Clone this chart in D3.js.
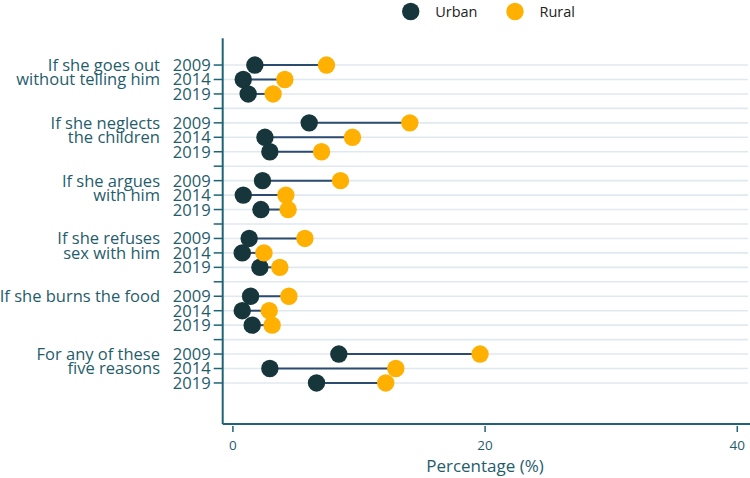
<!DOCTYPE html>
<html><head><meta charset="utf-8">
<script src="https://cdn.jsdelivr.net/npm/d3@7"></script>
<style>body{margin:0;background:#fff}svg{display:block}text{font-family:"Open Sans",sans-serif}</style>
</head><body><svg id="c" width="750" height="478"></svg>
<script>
const groups = [
  ["If she goes out","without telling him"],
  ["If she neglects","the children"],
  ["If she argues","with him"],
  ["If she refuses","sex with him"],
  ["If she burns the food"],
  ["For any of these","five reasons"]
];
const years = ["2009","2014","2019"];
// values per group, per year
const urban = [
  [1.74, 0.82, 1.21],
  [6.05, 2.54, 2.93],
  [2.35, 0.82, 2.22],
  [1.29, 0.74, 2.14],
  [1.40, 0.74, 1.53],
  [8.40, 2.93, 6.63]
];
const rural = [
  [7.42, 4.12, 3.19],
  [14.03, 9.48, 7.03],
  [8.53, 4.20, 4.38],
  [5.71, 2.46, 3.72],
  [4.44, 2.88, 3.11],
  [19.60, 12.92, 12.12]
];
const xTicks = [0, 20, 40];
const seriesNames = ["Urban","Rural"];

const cUrban = "#17363b", cRural = "#ffb000", cText = "#1f5d6c", cAxis = "#1e6474", cGrid = "#e0e9ef", cLine = "#2c4b70";

const svg = d3.select("#c");
const x = d3.scaleLinear().domain([-0.81, 40.85]).range([222.7, 748]);
const y = d3.scaleLinear().domain([-1.85, 24.84]).range([38.3, 424]);

const rows = [];
groups.forEach((g, gi) => {
  years.forEach((yr, yi) => rows.push({g: gi, yi, yr, idx: gi*4 + yi, u: urban[gi][yi], r: rural[gi][yi]}));
});
const seps = d3.range(groups.length - 1).map(gi => gi*4 + 3);
const allIdx = rows.map(d => d.idx).concat(seps);

// gridlines
svg.append("g").selectAll("line").data(allIdx).join("line")
  .attr("x1", x.range()[0]).attr("x2", 748)
  .attr("y1", d => y(d)).attr("y2", d => y(d))
  .attr("stroke", cGrid).attr("stroke-width", 1.6);

// y axis
const yAxisG = svg.append("g").attr("transform", `translate(${x.range()[0]},0)`);
yAxisG.append("line").attr("x1",0).attr("x2",0).attr("y1",38.3).attr("y2",424).attr("stroke",cAxis).attr("stroke-width",2);
yAxisG.selectAll("line.t").data(allIdx).join("line").attr("class","t")
  .attr("x1",-9).attr("x2",0).attr("y1",d=>y(d)).attr("y2",d=>y(d))
  .attr("stroke",cAxis).attr("stroke-width",1.5);
yAxisG.selectAll("text.yr").data(rows).join("text").attr("class","yr")
  .attr("x",-12).attr("y",d=>y(d.idx)).attr("dy","0.36em")
  .attr("text-anchor","end").attr("fill",cText).attr("font-size",16.6).text(d=>d.yr);

// group labels
groups.forEach((g, gi) => {
  g.forEach((line, li) => {
    svg.append("text").attr("x", 160).attr("y", y(gi*4 + li)).attr("dy","0.36em")
      .attr("text-anchor","end").attr("fill",cText).attr("font-size",16.5).text(line);
  });
});

// x axis
const xAxisG = svg.append("g").attr("transform","translate(0,424)");
xAxisG.append("line").attr("x1",x.range()[0]).attr("x2",750).attr("y1",0).attr("y2",0).attr("stroke",cAxis).attr("stroke-width",2);
xAxisG.selectAll("line.t").data(xTicks).join("line").attr("class","t")
  .attr("x1",d=>x(d)).attr("x2",d=>x(d)).attr("y1",2).attr("y2",8)
  .attr("stroke",cAxis).attr("stroke-width",1.5);
xAxisG.selectAll("text").data(xTicks).join("text")
  .attr("x",d=>x(d)).attr("y",26).attr("text-anchor","middle")
  .attr("fill",cText).attr("font-size",13.5).text(d=>d);
svg.append("text").attr("x",485).attr("y",472).attr("text-anchor","middle")
  .attr("fill",cText).attr("font-size",17).text("Percentage (%)");

// dumbbells
svg.append("g").selectAll("line").data(rows).join("line")
  .attr("x1",d=>x(d.u)).attr("x2",d=>x(d.r)).attr("y1",d=>y(d.idx)).attr("y2",d=>y(d.idx))
  .attr("stroke",cLine).attr("stroke-width",2);
svg.append("g").selectAll("circle").data(rows).join("circle")
  .attr("cx",d=>x(d.u)).attr("cy",d=>y(d.idx)).attr("r",8.7).attr("fill",cUrban);
svg.append("g").selectAll("circle").data(rows).join("circle")
  .attr("cx",d=>x(d.r)).attr("cy",d=>y(d.idx)).attr("r",8.7).attr("fill",cRural);

// legend
const leg = svg.append("g");
const legX = [410.7, 515];
seriesNames.forEach((n, i) => {
  leg.append("circle").attr("cx",legX[i]).attr("cy",11.5).attr("r",8.7).attr("fill", i ? cRural : cUrban);
  leg.append("text").attr("x",legX[i]+24.5).attr("y",11.5).attr("dy","0.36em")
    .attr("fill","#222").attr("font-size",14.5).text(n);
});
</script></body></html>
